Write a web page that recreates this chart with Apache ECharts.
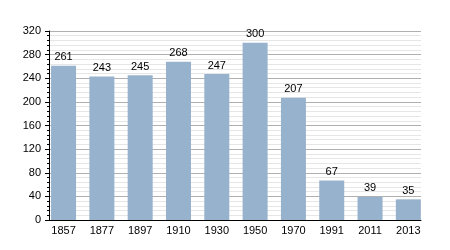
<!DOCTYPE html>
<html><head><meta charset="utf-8">
<script src="https://cdn.jsdelivr.net/npm/echarts@6/dist/echarts.min.js"></script>
<style>html,body{margin:0;padding:0;background:#fff}#c{width:450px;height:250px}</style>
</head><body><div id="c"></div>
<script>
const categories = ['1857','1877','1897','1910','1930','1950','1970','1991','2011','2013'];
const values = [261,243,245,268,247,300,207,67,39,35];
const yTicks = [0,40,80,120,160,200,240,280,320];

const FONT = 'Liberation Sans, Arial, sans-serif';
const idx = categories.map((c,i)=>i);
const chart = echarts.init(document.getElementById('c'));
chart.setOption({
  animation:false,
  grid:{left:49,right:29,top:31,bottom:30},
  xAxis:{type:'value',min:-0.38,max:9.33,
    splitLine:{show:false},
    axisLine:{show:true,onZero:false,lineStyle:{color:'#000',width:1}},
    axisTick:{show:false},
    axisLabel:{customValues:idx,color:'#000',fontSize:11,fontFamily:FONT,margin:5,
      formatter:(v)=>categories[Math.round(v)]}},
  yAxis:{type:'value',min:yTicks[0],max:yTicks[yTicks.length-1],interval:40,
    axisLine:{show:true,onZero:false,lineStyle:{color:'#000',width:1}},
    axisTick:{show:true,length:4,lineStyle:{color:'#000'}},
    minorTick:{show:true,splitNumber:5,length:2,lineStyle:{color:'#000'}},
    splitLine:{show:true,lineStyle:{color:'#b0b0b0',width:1}},
    minorSplitLine:{show:true,lineStyle:{color:'#e6e6e6',width:1}},
    axisLabel:{color:'#000',fontSize:11,fontFamily:FONT,margin:8}},
  series:[{type:'bar',data:values.map((v,i)=>[i,v]),barWidth:25,
    itemStyle:{color:'#97b2cd'},
    label:{show:true,position:'top',color:'#000',fontSize:11,distance:3,fontFamily:FONT,
      formatter:(p)=>p.value[1]}}]
});
</script></body></html>
